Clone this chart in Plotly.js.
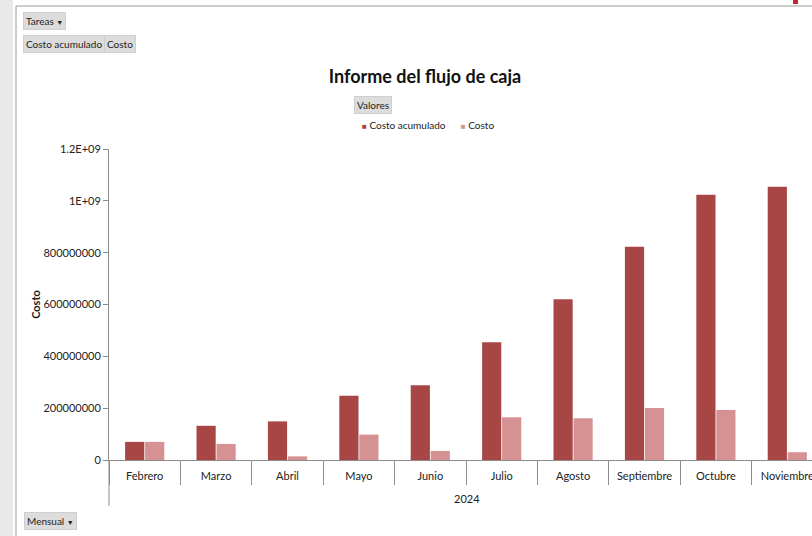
<!DOCTYPE html>
<html>
<head>
<meta charset="utf-8">
<script src="https://cdn.plot.ly/plotly-3.0.1.min.js"></script>
<style>
  html, body { margin: 0; padding: 0; background: #ffffff; }
  #chart { width: 812px; height: 536px; }
</style>
</head>
<body>
<div id="chart"></div>
<script>
// ---- data ----
const months = ["Febrero", "Marzo", "Abril", "Mayo", "Junio", "Julio", "Agosto", "Septiembre", "Octubre", "Noviembre"];
const costoAcumulado = [70000000, 132000000, 149000000, 248000000, 288000000, 454000000, 620000000, 823000000, 1023000000, 1054000000];
const costo = [70000000, 62000000, 14000000, 98000000, 35000000, 165000000, 161000000, 201000000, 193000000, 30000000];
const yTickVals = [0, 200000000, 400000000, 600000000, 800000000, 1000000000, 1200000000];
const yTickText = ["0", "200000000", "400000000", "600000000", "800000000", "1E+09", "1.2E+09"];
const seriesNames = ["Costo acumulado", "Costo"];
const yearLabel = "2024";

// ---- layout helpers (pixel -> paper) ----
const W = 812, H = 536;
const M = { l: 109, r: 0, t: 149, b: 76 };
const PW = W - M.l - M.r, PH = H - M.t - M.b;
const px = x => (x - M.l) / PW;
const py = y => (H - M.b - y) / PH;

const darkColor = "#a84646";
const lightColor = "#d69292";
const font = "Lato, 'Liberation Sans', sans-serif";
const axisGray = "#8c8c8c";

const traces = [
  { type: "bar", name: seriesNames[0], x: months, y: costoAcumulado,
    marker: { color: darkColor }, hoverinfo: "skip" },
  { type: "bar", name: seriesNames[1], x: months, y: costo,
    marker: { color: lightColor }, hoverinfo: "skip" }
];

function btn(text, cx, cy, size) {
  return { xref: "paper", yref: "paper", x: px(cx), y: py(cy), xanchor: "center", yanchor: "middle",
    text: text, showarrow: false, font: { family: font, size: size || 10, color: "#222" },
    bgcolor: "#dcdcdc", bordercolor: "#cfcfcf", borderwidth: 1, borderpad: 2 };
}

const layout = {
  width: W, height: H,
  margin: M,
  paper_bgcolor: "#ffffff",
  plot_bgcolor: "#ffffff",
  showlegend: false,
  barmode: "group",
  bargap: 0.44,
  bargroupgap: 0.04,
  font: { family: font, size: 11, color: "#222" },
  title: { text: "Informe del flujo de caja", x: px(425), xanchor: "center", xref: "paper",
           y: 1 - 77 / H, yref: "container", yanchor: "middle",
           font: { family: font, size: 18, color: "#111", weight: "bold" } },
  xaxis: {
    type: "category",
    range: [-0.5, -0.5 + PW / 71.4],
    showline: true, linecolor: axisGray, linewidth: 1,
    ticks: "outside", tickson: "boundaries", ticklen: 24, tickcolor: axisGray, tickwidth: 1,
    ticklabelstandoff: 6,
    tickfont: { family: font, size: 11, color: "#222" },
    showgrid: false, zeroline: false, fixedrange: true
  },
  yaxis: {
    range: [0, 1200000000],
    tickmode: "array", tickvals: yTickVals, ticktext: yTickText,
    showline: true, linecolor: axisGray, linewidth: 1,
    ticks: "outside", ticklen: 5, tickcolor: axisGray,
    tickfont: { family: font, size: 11, color: "#222" },
    showgrid: false, zeroline: false, fixedrange: true,
    title: { text: "Costo", standoff: 0, font: { family: font, size: 11, color: "#222", weight: "bold" } }
  },
  shapes: [
    // left gray strip
    { type: "rect", xref: "paper", yref: "paper", x0: px(0), x1: px(13), y0: py(H), y1: py(0),
      fillcolor: "#ebe9e7", line: { width: 0 }, layer: "below" },
    // chart frame (top and left edges)
    { type: "line", xref: "paper", yref: "paper", x0: px(16), x1: px(W), y0: py(6), y1: py(6),
      line: { color: "#9a9a9a", width: 1 } },
    { type: "line", xref: "paper", yref: "paper", x0: px(16), x1: px(16), y0: py(6), y1: py(H),
      line: { color: "#9a9a9a", width: 1 } },
    // extension of y axis below the category axis
    { type: "line", xref: "paper", yref: "paper", x0: 0, x1: 0, y0: 0, y1: py(506),
      line: { color: axisGray, width: 1 } },
    // small red fragment at top right
    { type: "rect", xref: "paper", yref: "paper", x0: px(793), x1: px(798), y0: py(4), y1: py(0),
      fillcolor: "#c0282d", line: { width: 0 } }
  ],
  annotations: [
    btn("Tareas <span style='font-size:7px'>▼</span>", 44.5, 20.5),
    btn("Costo acumulado", 64, 44.5),
    btn("Costo", 120, 44.5),
    btn("Valores", 372.5, 105.5),
    btn("Mensual <span style='font-size:7px'>▼</span>", 50.5, 520.5),
    { xref: "paper", yref: "paper", x: px(428), y: py(125), xanchor: "center", yanchor: "middle",
      showarrow: false, font: { family: font, size: 10, color: "#222" },
      text: "<span style='color:" + darkColor + ";font-size:8px'>■</span> " + seriesNames[0] +
            "      <span style='color:" + lightColor + ";font-size:8px'>■</span> " + seriesNames[1] },
    { xref: "paper", yref: "paper", x: px(466.7), y: py(498), xanchor: "center", yanchor: "middle",
      showarrow: false, text: yearLabel, font: { family: font, size: 11, color: "#222" } }
  ]
};

Plotly.newPlot("chart", traces, layout, { staticPlot: true, displayModeBar: false });
</script>
</body>
</html>
